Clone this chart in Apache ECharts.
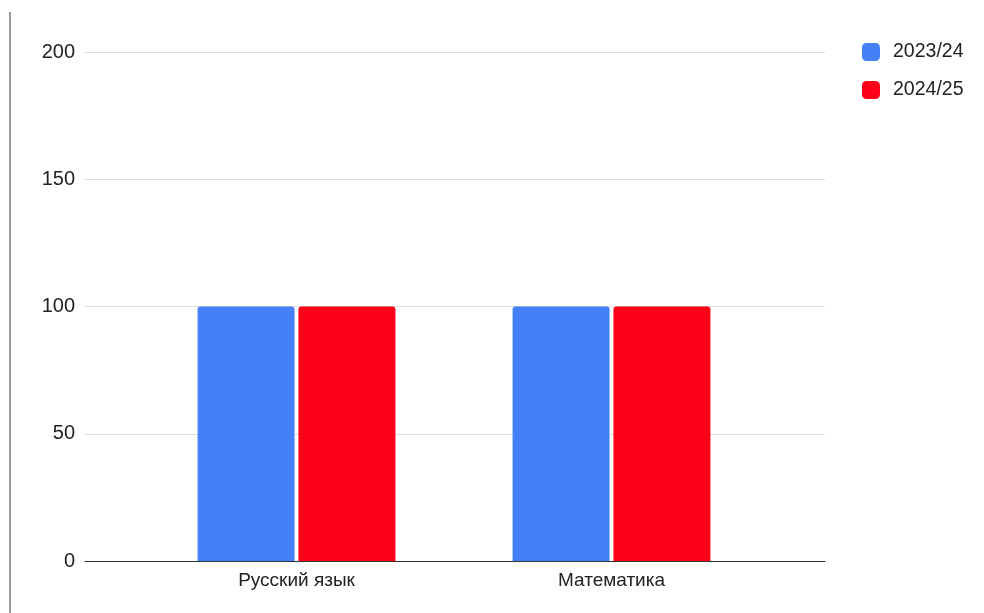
<!DOCTYPE html>
<html><head><meta charset="utf-8">
<script src="https://cdn.jsdelivr.net/npm/echarts@6/dist/echarts.min.js"></script>
<style>html,body{margin:0;padding:0;background:#fff}#c{width:984px;height:613px}</style>
</head><body><div id="c"></div>
<script>
const categories = ['Русский язык', 'Математика'];
const series2324 = [100, 100];
const series2425 = [100, 100];
const yTicks = { min: 0, max: 200, interval: 50 };

const chart = echarts.init(document.getElementById('c'));
const font = 'Liberation Sans, Arial, sans-serif';
chart.setOption({
  animation: false,
  textStyle: { fontFamily: font },
  graphic: [{
    type: 'line', shape: { x1: 10, y1: 12, x2: 10, y2: 613 },
    style: { stroke: '#9a9a9a', lineWidth: 2 }
  }],
  legend: {
    orient: 'vertical', left: 857, top: 37,
    itemWidth: 18, itemHeight: 18, itemGap: 18, icon: 'roundRect',
    textStyle: { fontSize: 19.5, color: '#222', fontFamily: font, padding: [0, 0, 0, 8] },
    data: ['2023/24', '2024/25']
  },
  grid: [
    { left: 85, right: 159, top: 52, bottom: 52 },
    { left: 139, right: 215, top: 52, bottom: 52 }
  ],
  xAxis: [
    { type: 'value', gridIndex: 0, min: 0, max: 1, show: true,
      axisLine: { show: true, onZero: false, lineStyle: { color: '#333', width: 1 } },
      axisLabel: { show: false }, axisTick: { show: false }, splitLine: { show: false } },
    { type: 'category', gridIndex: 1, data: categories,
      axisLine: { show: false }, axisTick: { show: false },
      axisLabel: { fontSize: 19, color: '#222', margin: 10, fontFamily: font } }
  ],
  yAxis: [
    { type: 'value', gridIndex: 0, min: yTicks.min, max: yTicks.max, interval: yTicks.interval,
      axisLine: { show: false }, axisTick: { show: false },
      axisLabel: { fontSize: 20, color: '#222', margin: 10, fontFamily: font },
      splitLine: { lineStyle: { color: '#dcdcdc', width: 1 } } },
    { type: 'value', gridIndex: 1, min: yTicks.min, max: yTicks.max, interval: yTicks.interval, show: false,
      splitLine: { show: false } }
  ],
  series: [
    { name: '2023/24', type: 'bar', xAxisIndex: 1, yAxisIndex: 1, data: series2324,
      barWidth: 97, barGap: '4%', itemStyle: { color: '#4580f6', borderRadius: [3, 3, 0, 0] } },
    { name: '2024/25', type: 'bar', xAxisIndex: 1, yAxisIndex: 1, data: series2425,
      barWidth: 97, barGap: '4%', itemStyle: { color: '#ff0019', borderRadius: [3, 3, 0, 0] } }
  ]
});
</script></body></html>
